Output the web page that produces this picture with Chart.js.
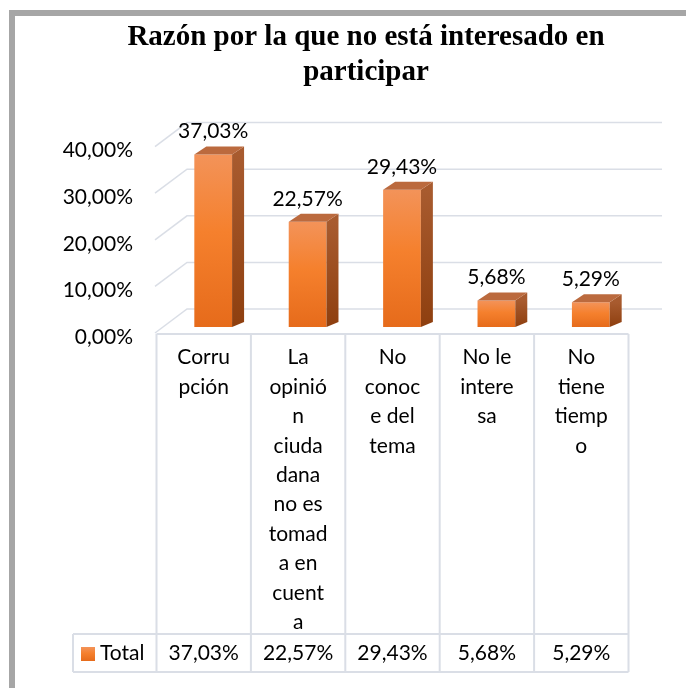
<!DOCTYPE html>
<html>
<head>
<meta charset="utf-8">
<title>Razón por la que no está interesado en participar</title>
<script src="https://cdn.jsdelivr.net/npm/chart.js@4.4.1/dist/chart.umd.min.js"></script>
<style>
  body { margin: 0; background: #fff; }
  #wrap { width: 686px; height: 688px; }
</style>
</head>
<body>
<div id="wrap"><canvas id="barChart" width="686" height="688"></canvas></div>
<script>
var titulo = ["Razón por la que no está interesado en", "participar"];
var categorias = [
    ["Corru", "pción"],
    ["La", "opinió", "n", "ciuda", "dana", "no es", "tomad", "a en", "cuent", "a"],
    ["No", "conoc", "e del", "tema"],
    ["No le", "intere", "sa"],
    ["No", "tiene", "tiemp", "o"]
];
var serie = "Total";
var valores = [37.03, 22.57, 29.43, 5.68, 5.29];
var ticksY = [0, 10, 20, 30, 40];

var fuente = "Lato";
var colorLinea = "#dadee6";

function formatoPct(v) {
    return v.toFixed(2).replace(".", ",") + "%";
}

function gradienteFrente(ctx, top, bottom) {
    var g = ctx.createLinearGradient(0, top, 0, bottom);
    g.addColorStop(0, "#f39359");
    g.addColorStop(0.45, "#f5802d");
    g.addColorStop(1, "#e66b1b");
    return g;
}

var barras3d = {
    id: "barras3d",
    beforeDraw: function (chart) {
        var ctx = chart.ctx;
        ctx.save();
        ctx.fillStyle = "#ffffff";
        ctx.fillRect(0, 0, chart.width, chart.height);
        ctx.fillStyle = "#a6a6a6";
        ctx.fillRect(9, 10, chart.width - 9, 6);
        ctx.fillRect(9, 10, 6, chart.height - 10);
        ctx.restore();
    },
    beforeDatasetsDraw: function (chart) {
        var ctx = chart.ctx;
        var x = chart.scales.x, y = chart.scales.y;
        ctx.save();
        ctx.strokeStyle = colorLinea;
        ctx.lineWidth = 1.5;
        ticksY.forEach(function (v) {
            var atras = y.getPixelForValue(v) - 18;
            ctx.beginPath();
            ctx.moveTo(x.left - 11, atras + 24);
            ctx.lineTo(x.left + 21, atras);
            ctx.lineTo(x.right + 24, atras);
            ctx.stroke();
        });
        ctx.restore();
    },
    afterDatasetsDraw: function (chart) {
        var ctx = chart.ctx;
        var meta = chart.getDatasetMeta(0);
        var dx = 12, dy = 8;
        ctx.save();
        meta.data.forEach(function (bar, i) {
            var izq = bar.x - bar.width / 2, der = bar.x + bar.width / 2;
            var top = bar.y, base = bar.base;

            var gl = ctx.createLinearGradient(0, top, 0, base);
            gl.addColorStop(0, "#a85b2f");
            gl.addColorStop(1, "#8e3f0f");
            ctx.fillStyle = gl;
            ctx.beginPath();
            ctx.moveTo(der, top);
            ctx.lineTo(der + dx, top - dy);
            ctx.lineTo(der + dx, base - dy + 3);
            ctx.lineTo(der, base);
            ctx.closePath();
            ctx.fill();

            ctx.fillStyle = "#bb6a3e";
            ctx.beginPath();
            ctx.moveTo(izq, top);
            ctx.lineTo(izq + dx, top - dy);
            ctx.lineTo(der + dx, top - dy);
            ctx.lineTo(der, top);
            ctx.closePath();
            ctx.fill();

            ctx.fillStyle = "#000";
            ctx.font = "21px " + fuente;
            ctx.textAlign = "center";
            ctx.textBaseline = "middle";
            ctx.fillText(formatoPct(valores[i]), bar.x, top - 23);
        });
        ctx.restore();
    },
    afterDraw: function (chart) {
        var ctx = chart.ctx;
        var x = chart.scales.x;
        var anchoCol = x.width / valores.length;
        var desp = -9.5;
        var izq = x.getPixelForValue(0) + desp - anchoCol / 2;
        var der = x.getPixelForValue(valores.length - 1) + desp + anchoCol / 2;
        var arriba = chart.chartArea.bottom + 7, fila = 634, abajo = 672, leyIzq = 73;

        ctx.save();
        ctx.strokeStyle = colorLinea;
        ctx.lineWidth = 2;
        ctx.beginPath();
        ctx.moveTo(izq, arriba); ctx.lineTo(der, arriba);
        ctx.moveTo(leyIzq, fila); ctx.lineTo(der, fila);
        ctx.moveTo(leyIzq, abajo); ctx.lineTo(der, abajo);
        ctx.moveTo(leyIzq, fila); ctx.lineTo(leyIzq, abajo);
        for (var i = 0; i <= valores.length; i++) {
            var cx = izq + i * anchoCol;
            ctx.moveTo(cx, arriba); ctx.lineTo(cx, abajo);
        }
        ctx.stroke();

        ctx.fillStyle = gradienteFrente(ctx, 647, 661);
        ctx.fillRect(81, 647, 14, 14);

        ctx.fillStyle = "#000";
        ctx.font = "21px " + fuente;
        ctx.textBaseline = "middle";
        ctx.textAlign = "left";
        ctx.fillText(serie, 100, 653);
        ctx.textAlign = "center";
        valores.forEach(function (v, i) {
            ctx.fillText(formatoPct(v), x.getPixelForValue(i) + desp, 653);
        });
        ctx.restore();
    }
};

Chart.defaults.font.family = fuente;
Chart.defaults.color = "#000";

var chart = new Chart(document.getElementById("barChart"), {
    type: "bar",
    data: {
        labels: categorias,
        datasets: [{
            label: serie,
            data: valores,
            categoryPercentage: 1,
            barPercentage: 0.4,
            backgroundColor: function (c) {
                var ch = c.chart;
                if (!ch.chartArea || c.raw === undefined) return "#f5802d";
                var y = ch.scales.y;
                return gradienteFrente(ch.ctx, y.getPixelForValue(c.raw), y.getPixelForValue(0));
            }
        }]
    },
    options: {
        responsive: false,
        animation: false,
        events: [],
        layout: { padding: { left: 46, right: 0, top: 0, bottom: 0 } },
        plugins: {
            legend: { display: false },
            tooltip: { enabled: false },
            title: {
                display: true,
                text: titulo,
                color: "#000",
                font: { family: "Liberation Serif", size: 29, weight: "bold", lineHeight: 1.2 },
                padding: { top: 20, bottom: 51 }
            }
        },
        scales: {
            x: {
                grid: { display: false, drawTicks: false },
                border: { display: false },
                ticks: {
                    autoSkip: false,
                    maxRotation: 0,
                    minRotation: 0,
                    padding: 16,
                    labelOffset: -9.5,
                    font: { size: 21, lineHeight: 1.4 }
                },
                afterFit: function (s) { s.height = 361; }
            },
            y: {
                min: 0,
                max: 40,
                grid: { display: false, drawTicks: false },
                border: { display: false },
                ticks: {
                    stepSize: 10,
                    padding: 33,
                    labelOffset: 10,
                    font: { size: 21 },
                    callback: function (v) { return formatoPct(v); }
                },
                afterFit: function (s) { s.width = 120; }
            },
            yDer: {
                position: "right",
                grid: { display: false, drawTicks: false },
                border: { display: false },
                ticks: { display: false },
                afterFit: function (s) { s.width = 48; }
            }
        }
    },
    plugins: [barras3d]
});
</script>
</body>
</html>
